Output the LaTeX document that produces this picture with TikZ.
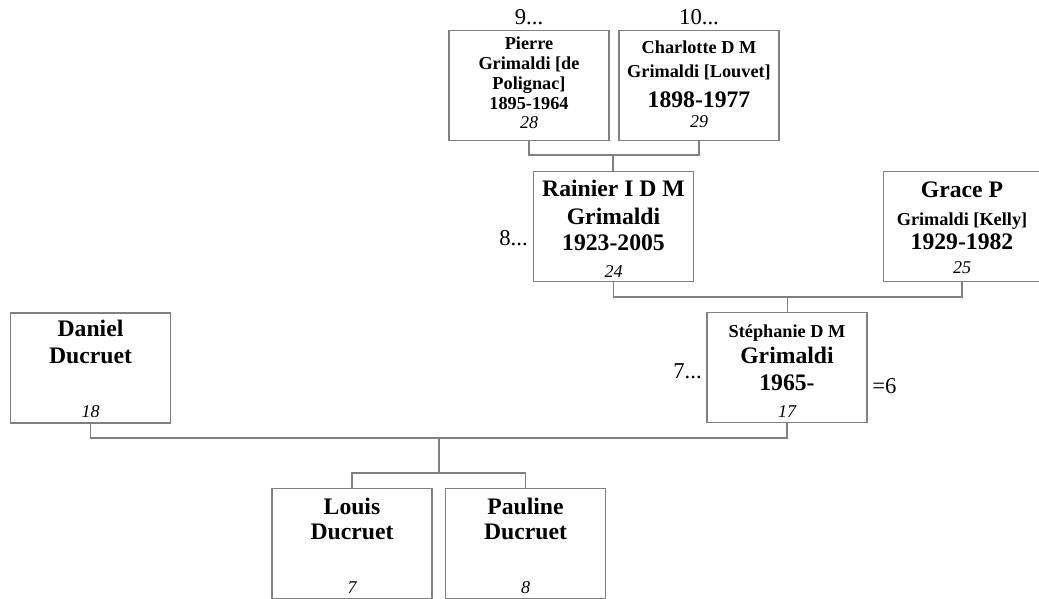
\documentclass[tikz,border=0pt]{standalone}
\usepackage{fontspec}
\setmainfont{Liberation Serif}

\tikzset{
  person/.style={draw=black!50, line width=0.8pt, minimum width=120pt, minimum height=82.5pt, inner sep=0pt},
  big/.style={font=\fontsize{17.75}{20}\selectfont\bfseries, anchor=base, inner sep=0pt},
  small/.style={font=\fontsize{13.7}{16}\selectfont\bfseries, anchor=base, inner sep=0pt},
  num/.style={font=\fontsize{13.5}{16}\selectfont\itshape, anchor=base, inner sep=0pt},
  more/.style={font=\fontsize{17}{20}\selectfont, anchor=base, inner sep=0pt},
  link/.style={draw=black!50, line width=0.8pt},
}

\begin{document}
\begin{tikzpicture}[x=0.75pt, y=-0.75pt]
        \useasboundingbox (0,0) rectangle (1039,599);
        \clip (0,0) rectangle (1039,599);

        \node[person] (pierre) at (529,85.5) {};
        \node[person] (charlotte) at (699,85.5) {};
        \node[person] (rainier) at (613.5,226.5) {};
        \node[person] (grace) at (963.5,226.5) {};
        \node[person] (stephanie) at (787,367.5) {};
        \node[person] (daniel) at (90.5,368) {};
        \node[person] (louis) at (352,543.5) {};
        \node[person] (pauline) at (525.5,543.5) {};

        \node[small] (pierre-a) at (529,50) {Pierre};
        \node[small] (pierre-b) at (529,70) {Grimaldi [de};
        \node[small] (pierre-c) at (529,90) {Polignac]};
        \node[small] (pierre-d) at (529,110) {1895-1964};
        \node[num] (pierre-n) at (529,129) {28};

        \node[small] (charlotte-a) at (699,54) {Charlotte D M};
        \node[small] (charlotte-b) at (699,78) {Grimaldi [Louvet]};
        \node[big] (charlotte-c) at (699,108) {1898-1977};
        \node[num] (charlotte-n) at (699,128) {29};

        \node[big] (rainier-a) at (613.5,197) {Rainier I D M};
        \node[big] (rainier-b) at (613.5,224) {Grimaldi};
        \node[big] (rainier-c) at (613.5,251) {1923-2005};
        \node[num] (rainier-n) at (613.5,277) {24};

        \node[big] (grace-a) at (962,198) {Grace P};
        \node[small] (grace-b) at (962,225) {Grimaldi [Kelly]};
        \node[big] (grace-c) at (962,249) {1929-1982};
        \node[num] (grace-n) at (962,273) {25};

        \node[small] (stephanie-a) at (787,337) {Stéphanie D M};
        \node[big] (stephanie-b) at (787,363) {Grimaldi};
        \node[big] (stephanie-c) at (787,390) {1965-};
        \node[num] (stephanie-n) at (787,417) {17};

        \node[big] (daniel-a) at (90.5,336) {Daniel};
        \node[big] (daniel-b) at (90.5,363) {Ducruet};
        \node[num] (daniel-n) at (90.5,417) {18};

        \node[big] (louis-a) at (352,514) {Louis};
        \node[big] (louis-b) at (352,539) {Ducruet};
        \node[num] (louis-n) at (352,593) {7};

        \node[big] (pauline-a) at (525.5,514) {Pauline};
        \node[big] (pauline-b) at (525.5,539) {Ducruet};
        \node[num] (pauline-n) at (525.5,593) {8};

        \node[more] (pierre-up) at (529,25) {9...};
        \node[more] (charlotte-up) at (699,25) {10...};
        \node[more, anchor=base east] (rainier-up) at (528,245) {8...};
        \node[more, anchor=base east] (stephanie-up) at (702,378) {7...};
        \node[more, anchor=base west] (stephanie-eq) at (872,393) {=6};

        \coordinate (pc) at (613,155);
        \draw[link] (pierre.south) |- (pc) -| (charlotte.south);
        \draw[link] (pc) -- (pc |- rainier.north);

        \coordinate (rg) at (787.5,297);
        \draw[link] (rainier.south) |- (rg) -| (grace-n |- grace.south);
        \draw[link] (rg) -- (rg |- stephanie.north);

        \coordinate (ds) at (439,438);
        \coordinate (kids) at (439,473);
        \draw[link] (daniel.south) |- (ds) -| (stephanie.south);
        \draw[link] (ds) -- (kids);
        \draw[link] (louis.north) |- (kids) -| (pauline.north);
    \end{tikzpicture}
\end{document}
